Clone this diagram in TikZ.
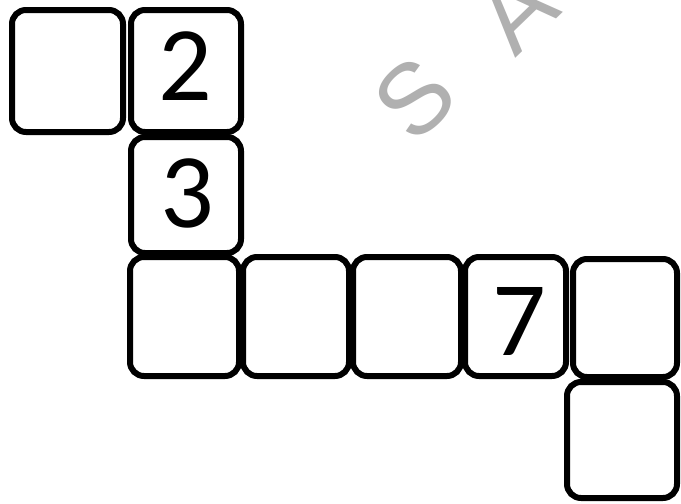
\documentclass[tikz,border=0pt]{standalone}
\usepackage{fontspec}
\newfontfamily\digitfont{Carlito}
\newfontfamily\wmfont{Liberation Sans}
\definecolor{wmgray}{RGB}{176,176,176}
\tikzset{
  cell/.style={draw=black, line width=6pt, rounded corners=14pt, inner sep=0pt, fill=white},
  digit/.style={font=\digitfont\fontsize{106}{106}\selectfont, inner sep=0pt, anchor=base},
  wm/.style={font=\wmfont\fontsize{100}{100}\selectfont, text=wmgray, inner sep=0pt, rotate=44}
}
\begin{document}
\begin{tikzpicture}[x=1pt,y=-1pt]
\useasboundingbox (0,0) rectangle (681,504);
\clip (0,0) rectangle (681,504);
\fill[white] (0,0) rectangle (681,504);
% watermark
\node[wm] (wS) at (415,99) {S};
\node[wm] (wA) at (516,11) {A};
% grid cells
\node[cell, minimum width=111pt, minimum height=122pt] (b1) at (67.5,71) {};
\node[cell, minimum width=110pt, minimum height=122pt] (b2) at (186,71) {};
\node[cell, minimum width=110pt, minimum height=116pt] (b3) at (186,195) {};
\node[cell, minimum width=109pt, minimum height=119pt] (r1) at (184.5,316.5) {};
\node[cell, minimum width=106pt, minimum height=119pt] (r2) at (296,316.5) {};
\node[cell, minimum width=108pt, minimum height=119pt] (r3) at (407,316.5) {};
\node[cell, minimum width=101pt, minimum height=119pt] (r4) at (515.5,316.5) {};
\node[cell, minimum width=104pt, minimum height=118pt] (r5) at (625,318) {};
\node[cell, minimum width=110pt, minimum height=116pt] (f) at (622,440) {};
% digits
\node[digit] (d2) at (185,100) {2};
\node[digit] (d3) at (187,227) {3};
\node[digit] (d7) at (519,355) {7};
\end{tikzpicture}
\end{document}
